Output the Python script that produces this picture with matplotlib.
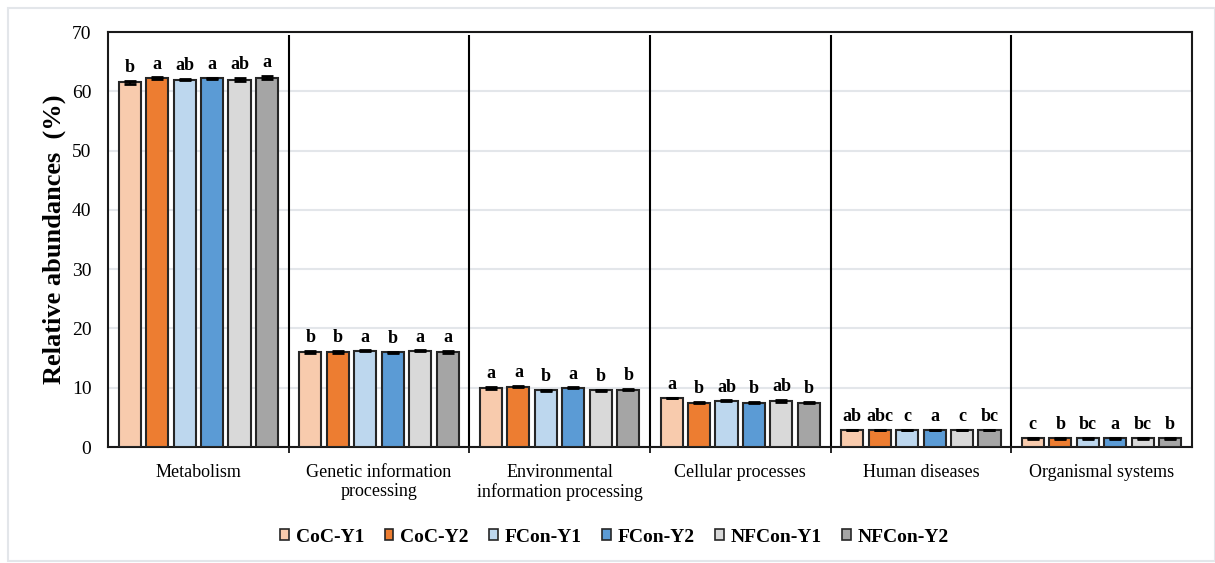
import matplotlib
matplotlib.use('Agg')
import matplotlib.pyplot as plt
import numpy as np
from matplotlib.patches import Rectangle, Patch

plt.rcParams['font.family'] = ['Liberation Serif', 'DejaVu Serif']

categories = ['Metabolism', 'Genetic information\nprocessing', 'Environmental\ninformation processing',
              'Cellular processes', 'Human diseases', 'Organismal systems']
treatments = ['CoC-Y1', 'CoC-Y2', 'FCon-Y1', 'FCon-Y2', 'NFCon-Y1', 'NFCon-Y2']
colors = ['#F8CBAD', '#ED7D31', '#BDD7EE', '#5B9BD5', '#D9D9D9', '#A5A5A5']

# rows = treatments, columns = categories
means = [
    [61.5, 16.0, 10.0, 8.3, 2.85, 1.45],
    [62.2, 16.0, 10.2, 7.5, 2.85, 1.45],
    [62.0, 16.25, 9.6, 7.8, 2.85, 1.45],
    [62.2, 16.0, 10.0, 7.5, 2.85, 1.45],
    [62.0, 16.25, 9.6, 7.8, 2.85, 1.45],
    [62.3, 16.05, 9.7, 7.5, 2.85, 1.45],
]
errors = [
    [0.25, 0.15, 0.15, 0.05, 0.05, 0.05],
    [0.15, 0.15, 0.15, 0.15, 0.05, 0.05],
    [0.10, 0.05, 0.10, 0.05, 0.05, 0.05],
    [0.10, 0.10, 0.05, 0.05, 0.05, 0.05],
    [0.20, 0.05, 0.10, 0.20, 0.05, 0.05],
    [0.25, 0.20, 0.05, 0.15, 0.05, 0.05],
]
letters = [
    ['b', 'b', 'a', 'a', 'ab', 'c'],
    ['a', 'b', 'a', 'b', 'abc', 'b'],
    ['ab', 'a', 'b', 'ab', 'c', 'bc'],
    ['a', 'b', 'a', 'b', 'a', 'a'],
    ['ab', 'a', 'b', 'ab', 'c', 'bc'],
    ['a', 'a', 'b', 'b', 'bc', 'b'],
]

fig = plt.figure(figsize=(12.15, 5.63), dpi=100)
ax = fig.add_axes([0.0889, 0.206, 0.892, 0.737])

# light frame around the whole figure
fig.patches.append(Rectangle((8 / 1215, 2 / 563), 1 - 8 / 1215, 1 - 10 / 563, transform=fig.transFigure,
                             fill=False, edgecolor='#E3E6EA', linewidth=1.5))

x = np.arange(len(categories))
width = 0.122
pitch = 0.152
for i, t in enumerate(treatments):
    pos = x + (i - 2.5) * pitch
    ax.bar(pos, means[i], width, color=colors[i], edgecolor='#262626', linewidth=1.5,
           yerr=errors[i], capsize=4, error_kw=dict(ecolor='black', elinewidth=1.5, capthick=2),
           zorder=3, label=t)
    for j in range(len(categories)):
        ax.annotate(letters[i][j], (pos[j], means[i][j] + errors[i][j]), xytext=(0, 3.5),
                    textcoords='offset points', ha='center', va='bottom',
                    fontsize=13, fontweight='bold')

ax.set_xlim(-0.5, len(categories) - 0.5)
ax.set_ylim(0, 70)
ax.set_yticks(np.arange(0, 71, 10))
ax.yaxis.grid(True, color='#E3E6EA', linewidth=1.5, zorder=0)
ax.set_axisbelow(True)
ax.tick_params(axis='y', length=0, labelsize=14, pad=12)
ax.tick_params(axis='x', length=0, labelsize=13, pad=12)
ax.set_xticks(x)
ax.set_xticklabels(categories)
ax.set_xticks(np.arange(0.5, len(categories) - 1, 1), minor=True)
ax.tick_params(axis='x', which='minor', length=4, width=1.2, direction='out')
ax.set_ylabel('Relative abundances  (%)', fontsize=19, fontweight='bold', labelpad=4)

# separators between the groups
ax.vlines(np.arange(0.5, len(categories) - 1, 1), 0, 69.5, color='black', linewidth=1.5, zorder=2)

for s in ax.spines.values():
    s.set_linewidth(1.5)
    s.set_color('#1a1a1a')

handles = [Patch(facecolor=c, edgecolor='#262626', linewidth=1.2) for c in colors]
fig.legend(handles, treatments, loc='lower center', bbox_to_anchor=(0.506, 0.0), ncol=6, frameon=False,
           handlelength=0.45, handleheight=0.5, handletextpad=0.35, columnspacing=1.05,
           prop=dict(weight='bold', size=14))

fig.savefig('out.png', dpi=100)
